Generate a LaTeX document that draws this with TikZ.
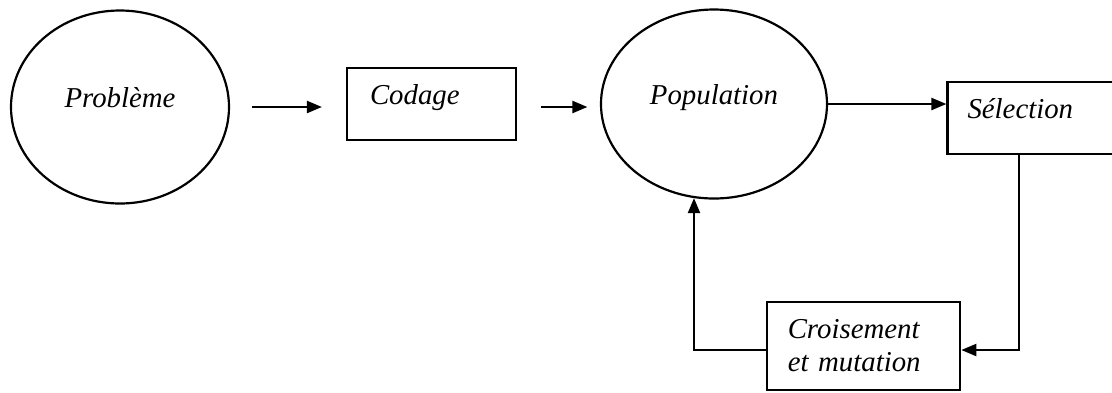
\documentclass[tikz,border=0pt]{standalone}
\usepackage{fontspec}
\setmainfont{Liberation Serif}[ItalicFont={Liberation Serif Italic}]
\usepackage{tikz}
\usetikzlibrary{calc}
\usetikzlibrary{positioning}
\usetikzlibrary{shapes.geometric}
\usetikzlibrary{arrows.meta}
\tikzstyle{stagetext} = [font=\fontsize{16.4}{18.8}\selectfont\itshape]
\tikzstyle{stagecircle} = [draw, ellipse, stagetext, line width=1.25pt, inner sep=0pt, text height=1.5ex, text depth=1.5ex]
\tikzstyle{stagebox} = [draw, rectangle, stagetext, line width=1.25pt, align=left, inner ysep=0pt]
\tikzstyle{flow} = [line width=1.25pt, -{Triangle[length=0.3cm, width=0.24cm]}]

\begin{document}
\begin{tikzpicture}
    \useasboundingbox (0,0) rectangle (22.24,-7.84);

    \node[stagecircle, minimum width=4.36cm, minimum height=3.86cm] (prob) at (2.40,-2.14) {Problème};
    \node[stagebox, minimum width=3.38cm, minimum height=1.44cm, inner xsep=0.46cm, text width=2.46cm, text height=1.5ex, text depth=1.5ex]
        (cod) at ($(prob)+(6.23,0.06)$) {Codage};
    \node[stagecircle, minimum width=4.52cm, minimum height=3.78cm] (pop) at ($(cod)+(5.65,0)$) {Population};
    \node[stagebox, minimum width=3.6cm, minimum height=1.45cm, inner xsep=0.40cm, text width=2.8cm, text height=1.5ex, text depth=1.5ex]
        (sel) at ($(pop)+(6.47,-0.28)$) {Sélection};
    \node[stagebox, minimum width=3.87cm, minimum height=1.77cm, inner xsep=0.42cm, text width=3.03cm]
        (cro) at ($(pop)+(2.99,-4.84)$) {Croisement\\et mutation};

    \draw[flow, shorten <=0.44cm, shorten >=0.48cm] (prob.east) -- (prob.east -| cod.west);
    \draw[flow, shorten <=0.48cm, shorten >=0.25cm] (cod.east |- prob.east) -- (pop.west |- prob.east);
    \draw[flow] (pop.east) -- (pop.east -| sel.west);
    \draw[flow] ($(sel.south west)+(1.45,0)$) |- ($(cro.east)+(0,-0.08)$);
    \draw[flow] ($(cro.west)+(0,-0.08)$) -| (pop.258);
\end{tikzpicture}
\end{document}
